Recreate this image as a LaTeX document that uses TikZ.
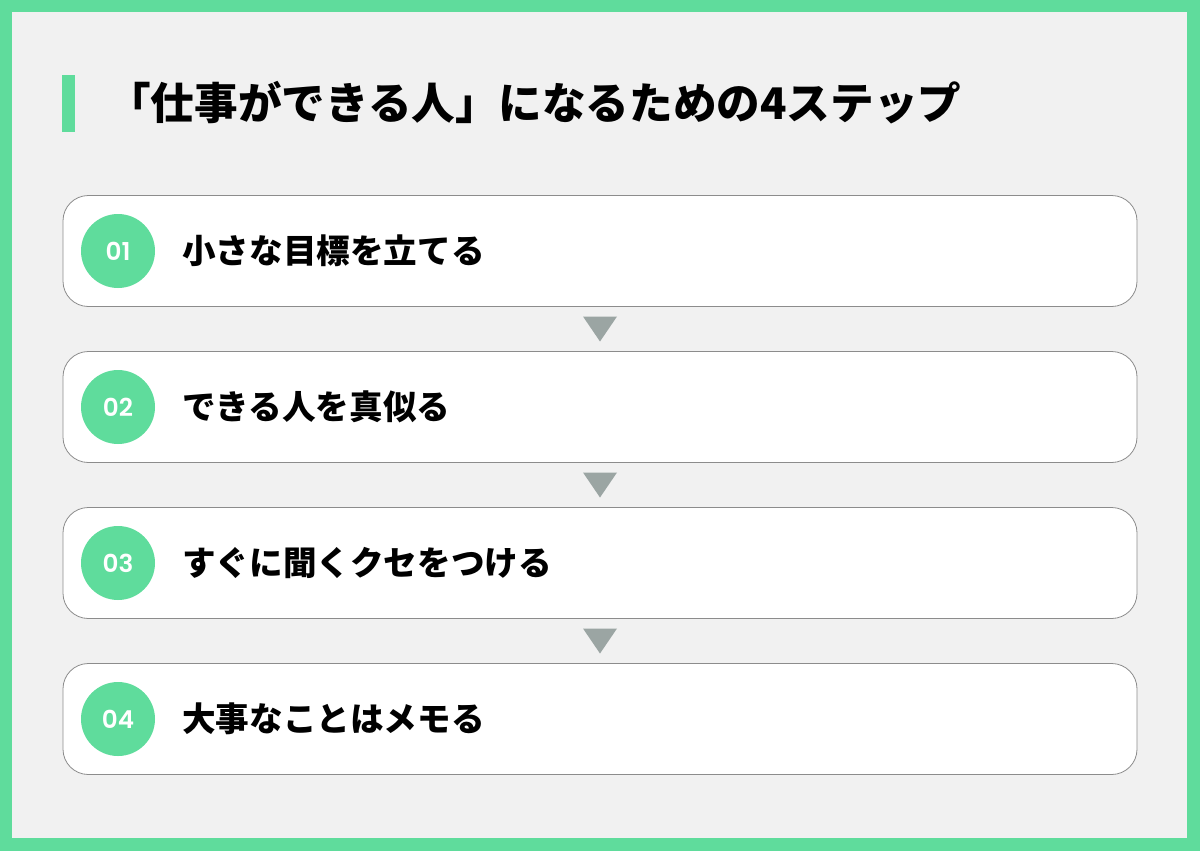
\documentclass[tikz,border=0pt]{standalone}
\usepackage{fontspec}
\setmainfont{Noto Sans CJK JP}
\newfontfamily\numfont{Poppins}[BoldFont={Poppins SemiBold}]
\usetikzlibrary{positioning}

\definecolor{stepgreen}{HTML}{5FDC9C}
\definecolor{bggray}{HTML}{F1F1F1}
\definecolor{arrowgray}{HTML}{9BA5A3}
\definecolor{boxline}{HTML}{8C8C8C}

\tikzset{
  stepbox/.style={draw=boxline, line width=0.6pt, fill=white, rounded corners=19pt,
    minimum width=805.5pt, minimum height=83.25pt, inner sep=0pt},
  stepnum/.style={circle, fill=stepgreen, text=white, minimum size=55.5pt, inner sep=0pt,
    font=\numfont\fontsize{18.5}{18.5}\selectfont\bfseries},
  steptext/.style={anchor=west, inner sep=0pt, font=\fontsize{25.2}{25.2}\selectfont\bfseries},
  titletext/.style={anchor=west, inner sep=0pt, font=\fontsize{32.7}{32.7}\selectfont\bfseries},
  steparrow/.style={fill=arrowgray}
}

\begin{document}
\begin{tikzpicture}[x=0.75pt, y=-0.75pt]

    % Frame
    \def\W{1200}
    \def\H{851}
    \def\rim{12}
    \def\dy{156}
    \fill[stepgreen] (0,0) rectangle (\W,\H);
    \fill[bggray] (\rim,\rim) rectangle (\W-13,\H-13);
    \useasboundingbox (0,0) rectangle (\W,\H);

    % Title
    \fill[stepgreen] (62,75) rectangle (75,132);
    \node[titletext] (title) at (107,103) {「仕事ができる人」になるための4ステップ};

    % Steps
    \foreach \i/\txt in {1/小さな目標を立てる, 2/できる人を真似る, 3/すぐに聞くクセをつける, 4/大事なことはメモる}{
        \pgfmathsetmacro{\yc}{251+\dy*(\i-1)}
        \node[stepbox] (box\i) at (600,\yc) {};
        \node[stepnum] (num\i) at (118,\yc) {0\i};
        \node[steptext] (text\i) at (182,\yc) {\txt};
    }

    % Arrows between steps
    \foreach \i/\j in {1/2, 2/3, 3/4}{
        \path (box\i.south) -- (box\j.north) coordinate[midway] (arr\i);
        \fill[steparrow] ([shift={(-17,-12.5)}]arr\i) -- ([shift={(17,-12.5)}]arr\i)
            -- ([shift={(0,12.5)}]arr\i) -- cycle;
    }

\end{tikzpicture}
\end{document}
